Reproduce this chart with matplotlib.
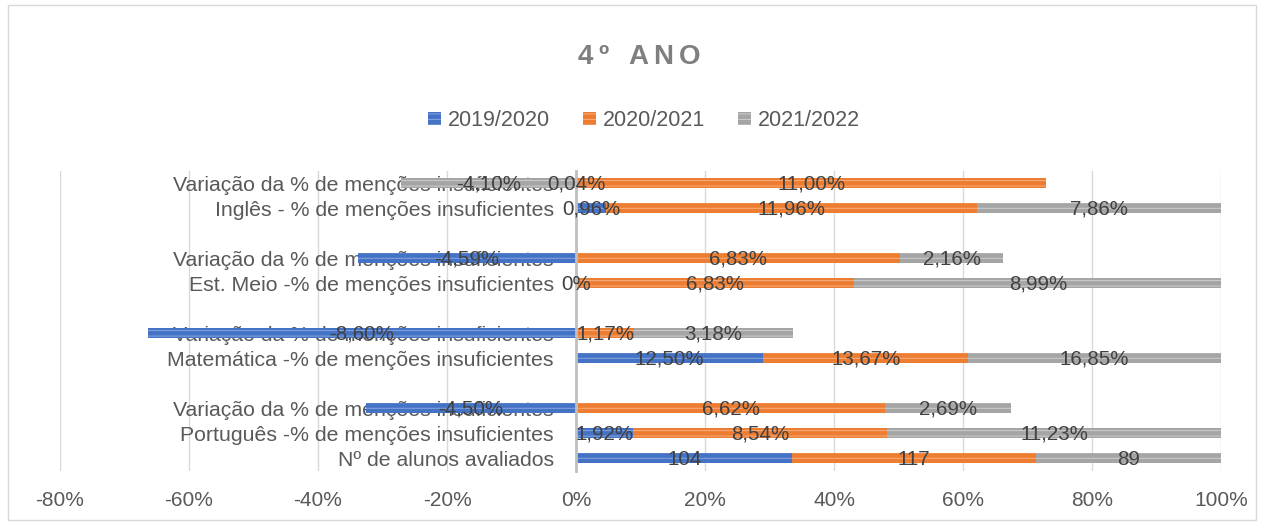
import numpy as np
import matplotlib
matplotlib.use("Agg")
import matplotlib.pyplot as plt
from matplotlib.patches import Rectangle

plt.rcParams["font.family"] = ["Liberation Sans", "DejaVu Sans"]
plt.rcParams["hatch.linewidth"] = 0.8

# categories bottom -> top, "" marks the empty gap rows
categories = [
    "Nº de alunos avaliados",
    "Português -% de menções insuficientes",
    "Variação da % de menções insuficientes",
    "",
    "Matemática -% de menções insuficientes",
    "Variação da % de menções insuficientes",
    "",
    "Est. Meio -% de menções insuficientes",
    "Variação da % de menções insuficientes",
    "",
    "Inglês - % de menções insuficientes",
    "Variação da % de menções insuficientes",
]
series = ["2019/2020", "2020/2021", "2021/2022"]
v2019 = [104, 1.92, -4.50, None, 12.50, -8.60, None, 0.00, -4.59, None, 0.96, 0.04]
v2020 = [117, 8.54, 6.62, None, 13.67, 1.17, None, 6.83, 6.83, None, 11.96, 11.00]
v2021 = [89, 11.23, 2.69, None, 16.85, 3.18, None, 8.99, 2.16, None, 7.86, -4.10]
title = "4º ANO"

colors = ["#4472C4", "#ED7D31", "#A5A5A5"]
stripe = ["#7E9FDB", "#F5A877", "#C8C8C8"]

fig = plt.figure(figsize=(12.64, 5.25), dpi=100)
fig.patches.append(Rectangle((0.006, 0.01), 0.988, 0.98, transform=fig.transFigure,
                             fill=False, edgecolor="#D9D9D9", linewidth=1))
ax = fig.add_axes([0.0475, 0.1035, 0.9185, 0.5715])

data = np.array([[np.nan if v is None else v for v in s] for s in (v2019, v2020, v2021)])
y = np.arange(len(categories))
totals = np.nansum(np.abs(data), axis=0)
totals[totals == 0] = 1
shares = data / totals

pos_left = np.zeros(len(categories))
neg_left = np.zeros(len(categories))
for i, name in enumerate(series):
    w = shares[i]
    ok = ~np.isnan(w)
    w0 = np.where(ok, w, 0)
    left = np.where(w0 >= 0, pos_left, neg_left)
    ax.barh(y[ok], w0[ok], left=left[ok], height=0.4, color=colors[i],
            edgecolor=stripe[i], linewidth=0, hatch="---", label=name, zorder=2)
    for j in np.where(ok)[0]:
        val = data[i, j]
        if j == 0:
            txt = f"{val:.0f}"
        elif val == 0:
            txt = "0%"
        else:
            txt = f"{val:.2f}%".replace(".", ",")
        ax.text(left[j] + w0[j] / 2, y[j] - 0.05, txt, ha="center", va="center",
                fontsize=14.8, color="#404040", zorder=4)
    pos_left = np.where(w0 >= 0, pos_left + w0, pos_left)
    neg_left = np.where(w0 < 0, neg_left + w0, neg_left)

ax.set_xlim(-0.8, 1.0)
ax.set_ylim(-0.5, len(categories) - 0.5)
ax.set_xticks(np.arange(-0.8, 1.01, 0.2))
ax.set_xticklabels([f"{t:.0f}%" for t in np.arange(-80, 101, 20)])
ax.set_yticks(y)
ax.set_yticklabels(categories)
ax.tick_params(axis="both", length=0, labelcolor="#595959")
ax.tick_params(axis="x", labelsize=15, pad=15)
ax.tick_params(axis="y", labelsize=15.3, pad=16)
ax.grid(axis="x", color="#D9D9D9", linewidth=1, zorder=0)
ax.set_axisbelow(True)
for s in ["top", "right", "bottom"]:
    ax.spines[s].set_visible(False)
ax.spines["left"].set_position(("data", 0))
ax.spines["left"].set_color("#BFBFBF")
ax.spines["left"].set_linewidth(2)
ax.spines["left"].set_zorder(3)
for lab in ax.get_yticklabels():
    lab.set_zorder(5)

# title with letter spacing: place characters one by one
renderer = fig.canvas.get_renderer()
title_kw = dict(fontsize=20, fontweight="bold", color="#7F7F7F", va="center", ha="left")
spacing, space_w = 5, 10
widths = []
for ch in title:
    if ch == " ":
        widths.append(space_w)
    else:
        t = fig.text(0, 0, ch, **title_kw)
        widths.append(t.get_window_extent(renderer).width)
        t.remove()
total = sum(widths) + spacing * (len(title) - 1)
x = 639 - total / 2
for ch, w in zip(title, widths):
    if ch != " ":
        fig.text(x / 1264, 1 - 57 / 525, ch, **title_kw)
    x += w + spacing

fig.legend(loc="center", bbox_to_anchor=(0.5095, 0.77), ncol=3, frameon=False,
           fontsize=15.5, handlelength=0.6, handleheight=0.6, columnspacing=1.5,
           handletextpad=0.35, labelcolor="#595959")

fig.savefig("out.png", dpi=100)
